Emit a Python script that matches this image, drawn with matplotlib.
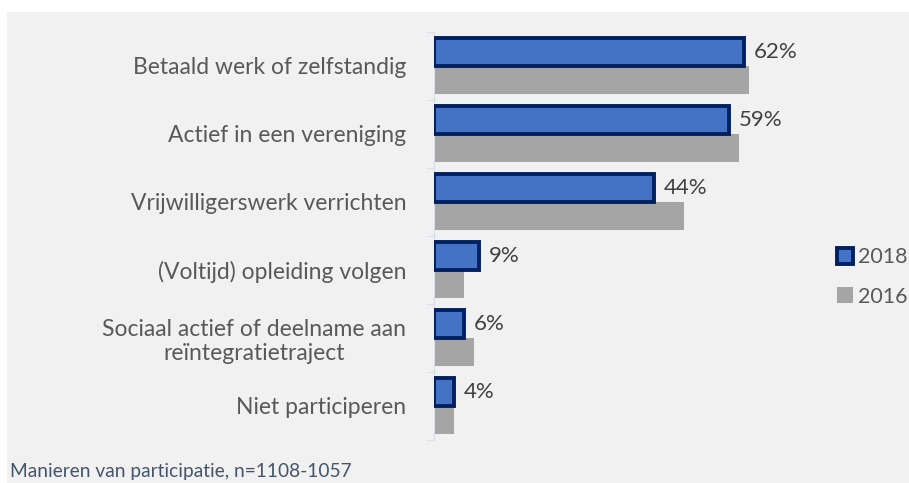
import numpy as np
from matplotlib import pyplot as plt
from matplotlib.patches import Patch, Rectangle

categories = [
    'Betaald werk of zelfstandig',
    'Actief in een vereniging',
    'Vrijwilligerswerk verrichten',
    '(Voltijd) opleiding volgen',
    'Sociaal actief of deelname aan\nreïntegratietraject',
    'Niet participeren',
]
values_2018 = [62, 59, 44, 9, 6, 4]
values_2016 = [63, 61, 50, 6, 8, 4]
series_names = ['2018', '2016']
footnote = 'Manieren van participatie, n=1108-1057'

BLUE = '#4472c4'
NAVY = '#002060'
GREY = '#a5a5a5'
BG = '#f1f1f1'
TEXT = '#595959'

plt.rcParams['font.family'] = ['Lato', 'DejaVu Sans']

fig = plt.figure(figsize=(9.09, 4.83), dpi=100)
fig.patch.set_facecolor('white')
# grey panel behind the chart
fig.patches.append(Rectangle((7 / 909, 0), 1, 1 - 12 / 483, transform=fig.transFigure,
                             facecolor=BG, edgecolor='none', zorder=-10))

ax = fig.add_axes([434 / 909, 1 - 440 / 483, 350 / 909, 408 / 483])
ax.set_facecolor('none')

y = np.arange(len(categories))  # group positions
h = 0.41  # bar height

rects = ax.barh(y - h / 2, values_2018, h, color=BLUE, edgecolor=NAVY, linewidth=2.8,
                label=series_names[0], zorder=3)
ax.barh(y + h / 2, values_2016, h, color=GREY, edgecolor='none', label=series_names[1], zorder=2)
ax.bar_label(rects, labels=['%d%%' % v for v in values_2018], padding=7,
             fontsize=16, color='#404040')

ax.set_xlim(0, 70)
ax.set_ylim(len(categories) - 0.5, -0.5)
ax.set_xticks([])
ax.set_yticks(y, categories, fontsize=16.5, color=TEXT, ha='right', multialignment='center')
ax.tick_params(axis='y', which='major', length=0, pad=20)
ax.set_yticks(np.arange(len(categories) + 1) - 0.5, minor=True)
ax.tick_params(axis='y', which='minor', length=6, color='#d9dde6')
for s in ['top', 'right', 'bottom']:
    ax.spines[s].set_visible(False)
ax.spines['left'].set_color('#d9dde6')

handles = [Patch(facecolor=BLUE, edgecolor=NAVY, linewidth=2.8),
           Patch(facecolor=GREY, edgecolor='none')]
leg = fig.legend(handles, series_names, loc='center left', bbox_to_anchor=(826 / 909, 1 - 277 / 483),
                 frameon=False, fontsize=15.5, handlelength=0.75, handleheight=0.75,
                 handletextpad=0.25, labelspacing=0.9, borderpad=0)
for t in leg.get_texts():
    t.set_color(TEXT)

fig.text(10 / 909, 1 - 472 / 483, footnote, fontsize=13.8, color='#44546a', va='center')

fig.savefig('out.png', dpi=100)
